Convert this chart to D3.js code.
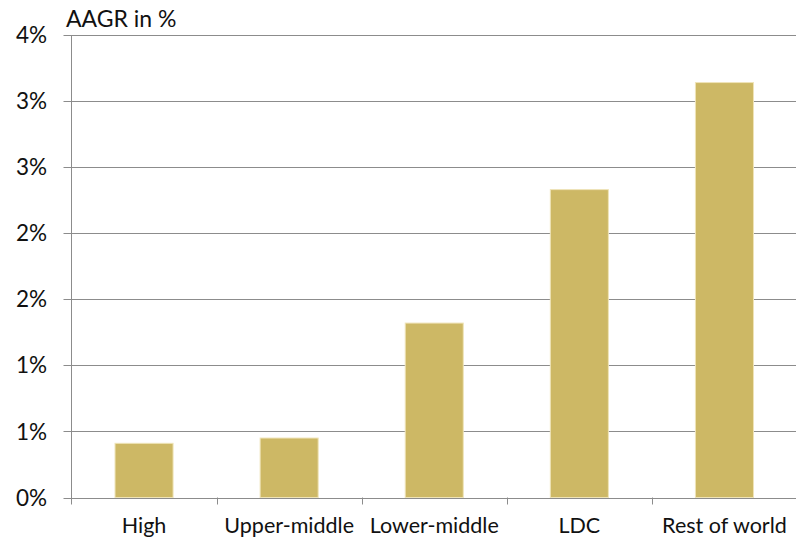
<!DOCTYPE html>
<html>
<head>
<meta charset="utf-8">
<script src="https://cdn.jsdelivr.net/npm/d3@7"></script>
<style>
  html, body { margin: 0; padding: 0; background: #fff; }
  svg { display: block; font-family: Lato, "Open Sans", sans-serif; }
</style>
</head>
<body>
<svg id="chart" width="796" height="538"></svg>
<script>
// Average annual growth rate by income group
const categories = ["High", "Upper-middle", "Lower-middle", "LDC", "Rest of world"];
const aagr = [0.41, 0.45, 1.32, 2.33, 3.14];
const yTicks = [0, 0.5, 1, 1.5, 2, 2.5, 3, 3.5];

const svg = d3.select("#chart");
const margin = { top: 35, right: 0, bottom: 40, left: 71.5 };
const width = 796, height = 538;

const x = d3.scaleBand()
  .domain(categories)
  .range([margin.left, width + 1])
  .paddingInner(0.6)
  .paddingOuter(0.3);

const y = d3.scaleLinear()
  .domain([0, 3.5])
  .range([497.5, margin.top]);

const gridColor = "#8c8c8c";
// whole-percent labels, halves rounded up
const pct = d => Math.floor(d + 0.5) + "%";

// horizontal gridlines with short left ticks
svg.append("g")
  .selectAll("line")
  .data(yTicks)
  .join("line")
  .attr("x1", margin.left - 8)
  .attr("x2", width)
  .attr("y1", d => Math.round(y(d)) + 0.5)
  .attr("y2", d => Math.round(y(d)) + 0.5)
  .attr("stroke", gridColor)
  .attr("stroke-width", 1);

// y-axis labels
svg.append("g")
  .selectAll("text")
  .data(yTicks)
  .join("text")
  .attr("x", 47)
  .attr("y", d => y(d))
  .attr("dy", "0.36em")
  .attr("text-anchor", "end")
  .attr("font-size", 22.5)
  .attr("fill", "#111")
  .text(pct);

// bars
svg.append("g")
  .selectAll("rect")
  .data(aagr)
  .join("rect")
  .attr("x", (d, i) => x(categories[i]))
  .attr("y", d => y(d))
  .attr("width", x.bandwidth())
  .attr("height", d => y(0) - y(d))
  .attr("fill", "#cdb865")
  .attr("stroke", "#efe4b8")
  .attr("stroke-width", 1);

// vertical axis line
svg.append("line")
  .attr("x1", margin.left).attr("x2", margin.left)
  .attr("y1", y(3.5)).attr("y2", y(0) + 7)
  .attr("stroke", gridColor);

// baseline
svg.append("line")
  .attr("x1", margin.left).attr("x2", width)
  .attr("y1", Math.round(y(0)) + 0.5).attr("y2", Math.round(y(0)) + 0.5)
  .attr("stroke", gridColor);

// category boundary ticks
const step = x.step();
svg.append("g")
  .selectAll("line")
  .data(categories.slice(1))
  .join("line")
  .attr("x1", (d, i) => Math.round(margin.left + step * (i + 1)) + 0.5)
  .attr("x2", (d, i) => Math.round(margin.left + step * (i + 1)) + 0.5)
  .attr("y1", y(0))
  .attr("y2", y(0) + 7)
  .attr("stroke", gridColor);

// category labels
svg.append("g")
  .selectAll("text")
  .data(categories)
  .join("text")
  .attr("x", d => x(d) + x.bandwidth() / 2)
  .attr("y", 533)
  .attr("text-anchor", "middle")
  .attr("font-size", 21.5)
  .attr("fill", "#111")
  .text(d => d);

// axis title
svg.append("text")
  .attr("x", 66)
  .attr("y", 27)
  .attr("font-size", 23)
  .attr("fill", "#111")
  .text("AAGR in %");
</script>
</body>
</html>
